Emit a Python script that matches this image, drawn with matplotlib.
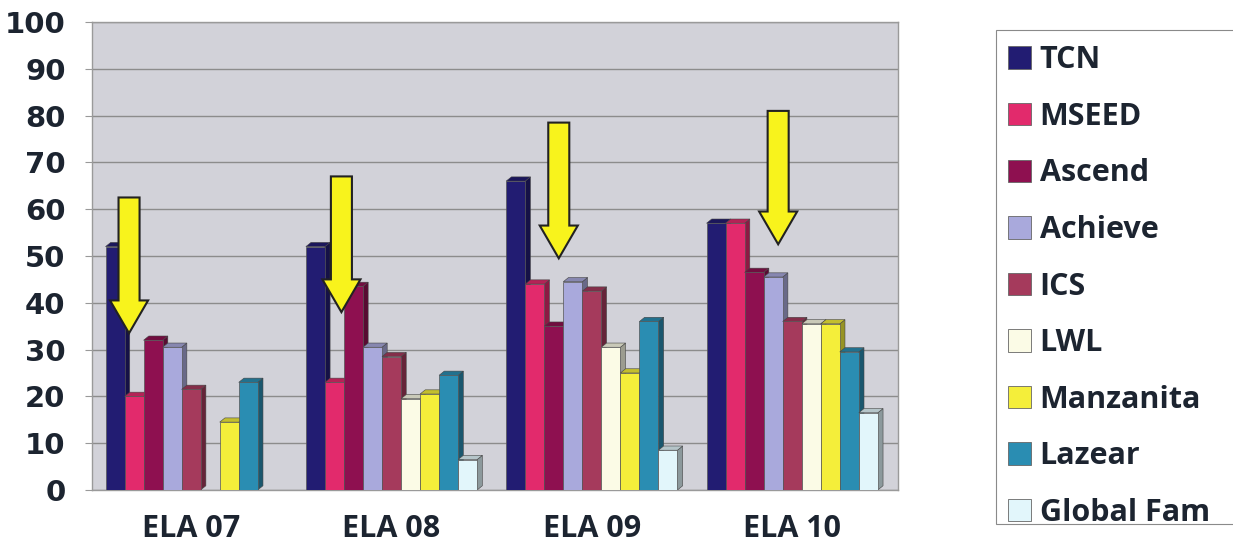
import numpy as np
import matplotlib
matplotlib.use("Agg")
import matplotlib.pyplot as plt
from matplotlib.patches import Polygon, Patch, Rectangle
from matplotlib.colors import to_rgb

# ELA scores by school, one list per school across the four grade tests
categories = ["ELA 07", "ELA 08", "ELA 09", "ELA 10"]
schools = ["TCN", "MSEED", "Ascend", "Achieve", "ICS", "LWL",
           "Manzanita", "Lazear", "Global Fam"]
tcn = [52, 52, 66, 57]
mseed = [20, 23, 44, 57]
ascend = [32, 43.5, 35, 46.5]
achieve = [30.5, 30.5, 44.5, 45.5]
ics = [21.5, 28.5, 42.5, 36]
lwl = [0, 19.5, 30.5, 35.5]
manzanita = [14.5, 20.5, 25, 35.5]
lazear = [23, 24.5, 36, 29.5]
global_fam = [0, 6.5, 8.5, 16.5]
series = [tcn, mseed, ascend, achieve, ics, lwl, manzanita, lazear, global_fam]

colors = ["#221c72", "#e22a6c", "#8e1050", "#a9a9dc", "#a53a5c",
          "#fbfbe6", "#f4ee3a", "#2a8db2", "#e2f6fb"]

# highlight arrows: x offset from group centre, top and tip values
arrow_dx = [-0.31, -0.25, -0.165, -0.07]
arrow_top = [62.5, 67, 78.5, 81]
arrow_tip = [33.5, 38, 49.5, 52.5]

fig = plt.figure(figsize=(12.33, 5.44), dpi=100)
ax = fig.add_axes([0.0746, 0.0993, 0.654, 0.8603])
ax.set_facecolor("#d2d2d9")

w = 0.095
dx, dy = 0.026, 0.9
x = np.arange(len(categories))
start = -w * len(schools) / 2


def shade(c, f):
    r, g, b = to_rgb(c)
    return (r * f, g * f, b * f)


for i, (vals, c) in enumerate(zip(series, colors)):
    for j, h in enumerate(vals):
        if h <= 0:
            continue
        x0 = x[j] + start + i * w
        x1 = x0 + w
        z = 3 + i * 0.1
        side = Polygon([(x1, 0), (x1 + dx, dy), (x1 + dx, h + dy), (x1, h)],
                       closed=True, facecolor=shade(c, 0.62),
                       edgecolor="#444444", lw=0.4, zorder=z)
        top = Polygon([(x0, h), (x1, h), (x1 + dx, h + dy), (x0 + dx, h + dy)],
                      closed=True, facecolor=shade(c, 0.8),
                      edgecolor="#444444", lw=0.4, zorder=z)
        ax.add_patch(side)
        ax.add_patch(top)
        ax.bar(x0, h, width=w, align="edge", color=c, edgecolor="#555555",
               linewidth=0.5, zorder=z + 0.05)

# yellow arrows pointing down at the bars
for j in range(len(categories)):
    ax.arrow(x[j] + arrow_dx[j], arrow_top[j], 0, arrow_tip[j] - arrow_top[j],
             width=0.105, head_width=0.19, head_length=7,
             length_includes_head=True, facecolor="#f8f31c",
             edgecolor="#222222", linewidth=1.5, zorder=10)

ax.set_xlim(-0.495, 3.53)
ax.set_ylim(0, 100)
ax.set_yticks(np.arange(0, 101, 10))
ax.yaxis.grid(True, color="#8c8c8c", linewidth=1)
ax.set_axisbelow(True)

ax.set_xticks(x)
ax.set_xticklabels(categories, fontfamily="Open Sans", fontweight="bold",
                   fontsize=22, color="#1c2430")
ax.tick_params(axis="x", length=0, pad=17)
ax.tick_params(axis="y", length=5, color="#999999", pad=14,
               labelsize=21, labelcolor="#1c2430")
for lab in ax.get_yticklabels():
    lab.set_fontweight("bold")
for s in ax.spines.values():
    s.set_color("#9a9a9a")
    s.set_linewidth(1)

# legend box runs off the right edge of the figure
W, H = 1233, 544
fig.patches.append(Rectangle((996 / W, 1 - 524 / H), 260 / W, 494 / H,
                             transform=fig.transFigure, facecolor="white",
                             edgecolor="#8a8a8a", linewidth=0.8, zorder=1))
handles = [Patch(facecolor=c, edgecolor="#666666", linewidth=0.6) for c in colors]
leg = fig.legend(handles, schools, loc="upper left",
                 bbox_to_anchor=(996 / W, 1 - 33 / H), borderaxespad=0,
                 prop={"family": "Open Sans", "weight": "bold", "size": 22},
                 handlelength=0.75, handleheight=0.75, handletextpad=0.28,
                 labelspacing=0.87, borderpad=0.4, frameon=False)
for t in leg.get_texts():
    t.set_color("#1c2430")

fig.savefig("out.png", dpi=100)
